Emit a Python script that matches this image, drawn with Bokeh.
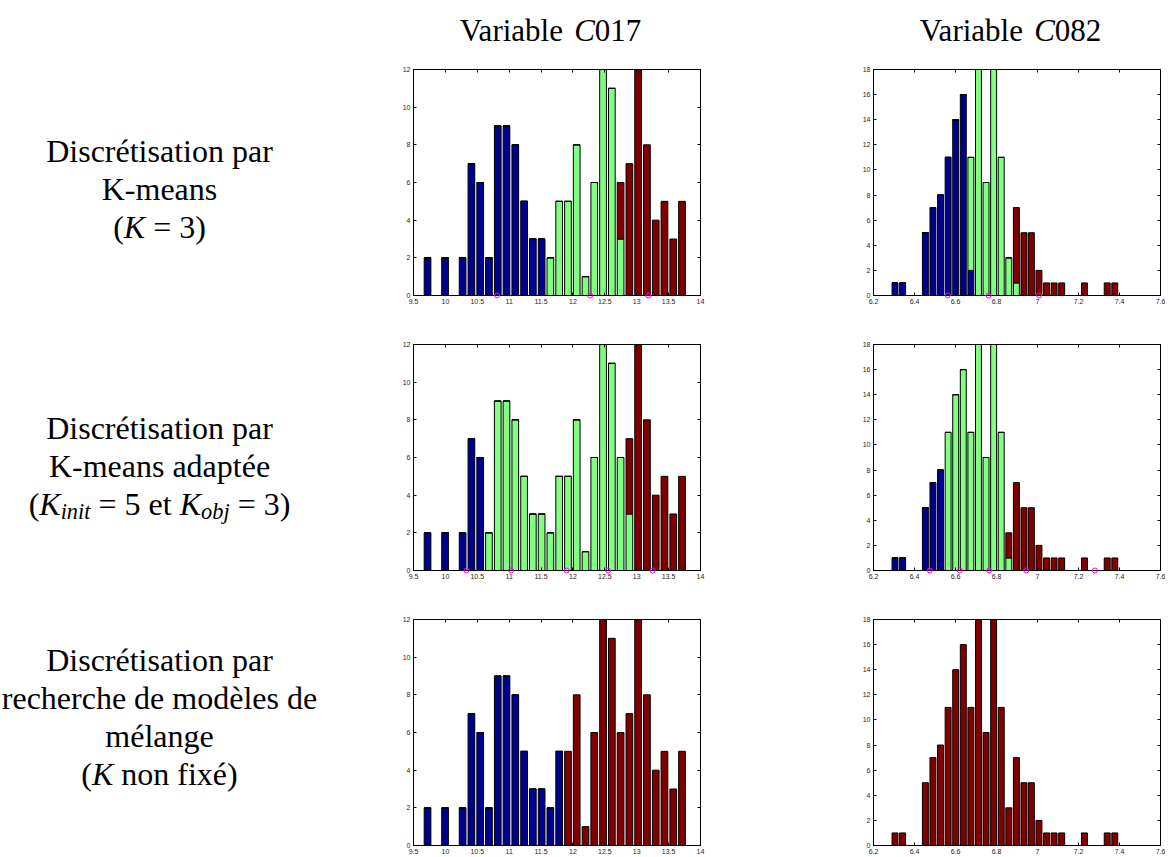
from bokeh.plotting import figure
from bokeh.models import Range1d, LinearAxis, FixedTicker, PrintfTickFormatter, ColumnDataSource
from bokeh.layouts import row, column
from bokeh.embed import file_html
from bokeh.resources import INLINE
from bokeh.core.properties import value

# ---------------- data ----------------
c017_bins = [9.720, 9.858, 9.995, 10.133, 10.270, 10.408, 10.546, 10.683, 10.821, 10.958,
             11.096, 11.234, 11.371, 11.509, 11.646, 11.784, 11.922, 12.059, 12.197, 12.334,
             12.472, 12.610, 12.747, 12.885, 13.022, 13.160, 13.298, 13.435, 13.573, 13.710]
c082_bins = [6.305, 6.342, 6.379, 6.416, 6.453, 6.490, 6.527, 6.564, 6.601, 6.638,
             6.675, 6.712, 6.749, 6.786, 6.823, 6.860, 6.897, 6.934, 6.970, 7.007,
             7.044, 7.081, 7.118, 7.155, 7.192, 7.229, 7.266, 7.303, 7.340, 7.377]

# K-means (K=3)
c017_km_blue = [2, 0, 2, 0, 2, 7, 6, 2, 9, 9, 8, 5, 3, 3, 0, 0, 0, 0, 0, 0, 0, 0, 0, 0, 0, 0, 0, 0, 0, 0]
c017_km_green = [0, 0, 0, 0, 0, 0, 0, 0, 0, 0, 0, 0, 0, 0, 2, 5, 5, 8, 1, 6, 12, 11, 3, 0, 0, 0, 0, 0, 0, 0]
c017_km_red = [0, 0, 0, 0, 0, 0, 0, 0, 0, 0, 0, 0, 0, 0, 0, 0, 0, 0, 0, 0, 0, 0, 3, 7, 12, 8, 4, 5, 3, 5]
c082_km_blue = [1, 1, 0, 0, 5, 7, 8, 11, 14, 16, 2, 0, 0, 0, 0, 0, 0, 0, 0, 0, 0, 0, 0, 0, 0, 0, 0, 0, 0, 0]
c082_km_green = [0, 0, 0, 0, 0, 0, 0, 0, 0, 0, 9, 18, 9, 18, 11, 3, 1, 0, 0, 0, 0, 0, 0, 0, 0, 0, 0, 0, 0, 0]
c082_km_red = [0, 0, 0, 0, 0, 0, 0, 0, 0, 0, 0, 0, 0, 0, 0, 0, 6, 5, 5, 2, 1, 1, 1, 0, 0, 1, 0, 0, 1, 1]

# K-means adaptee (Kinit=5, Kobj=3)
c017_ad_blue = [2, 0, 2, 0, 2, 7, 6, 0, 0, 0, 0, 0, 0, 0, 0, 0, 0, 0, 0, 0, 0, 0, 0, 0, 0, 0, 0, 0, 0, 0]
c017_ad_green = [0, 0, 0, 0, 0, 0, 0, 2, 9, 9, 8, 5, 3, 3, 2, 5, 5, 8, 1, 6, 12, 11, 6, 3, 0, 0, 0, 0, 0, 0]
c017_ad_red = [0, 0, 0, 0, 0, 0, 0, 0, 0, 0, 0, 0, 0, 0, 0, 0, 0, 0, 0, 0, 0, 0, 0, 4, 12, 8, 4, 5, 3, 5]
c082_ad_blue = [1, 1, 0, 0, 5, 7, 8, 0, 0, 0, 0, 0, 0, 0, 0, 0, 0, 0, 0, 0, 0, 0, 0, 0, 0, 0, 0, 0, 0, 0]
c082_ad_green = [0, 0, 0, 0, 0, 0, 0, 11, 14, 16, 11, 18, 9, 18, 11, 1, 0, 0, 0, 0, 0, 0, 0, 0, 0, 0, 0, 0, 0, 0]
c082_ad_red = [0, 0, 0, 0, 0, 0, 0, 0, 0, 0, 0, 0, 0, 0, 0, 2, 7, 5, 5, 2, 1, 1, 1, 0, 0, 1, 0, 0, 1, 1]

# Modeles de melange (K non fixe)
c017_gm_blue = [2, 0, 2, 0, 2, 7, 6, 2, 9, 9, 8, 5, 3, 3, 2, 5, 0, 0, 0, 0, 0, 0, 0, 0, 0, 0, 0, 0, 0, 0]
c017_gm_red = [0, 0, 0, 0, 0, 0, 0, 0, 0, 0, 0, 0, 0, 0, 0, 0, 5, 8, 1, 6, 12, 11, 6, 7, 12, 8, 4, 5, 3, 5]
c082_gm_red = [1, 1, 0, 0, 5, 7, 8, 11, 14, 16, 11, 18, 9, 18, 11, 3, 7, 5, 5, 2, 1, 1, 1, 0, 0, 1, 0, 0, 1, 1]

# cluster centres (magenta circles)
c017_km_centres = [10.81, 12.27, 13.18]
c082_km_centres = [6.562, 6.761, 7.008]
c017_ad_centres = [10.33, 11.03, 11.90, 12.55, 13.25]
c082_ad_centres = [6.475, 6.621, 6.764, 6.945, 7.280]

c017_xticks = [9.5, 10, 10.5, 11, 11.5, 12, 12.5, 13, 13.5, 14]
c017_xlabels = ["9.5", "10", "10.5", "11", "11.5", "12", "12.5", "13", "13.5", "14"]
c017_yticks = [0, 2, 4, 6, 8, 10, 12]
c082_xticks = [6.2, 6.4, 6.6, 6.8, 7.0, 7.2, 7.4, 7.6]
c082_xlabels = ["6.2", "6.4", "6.6", "6.8", "7", "7.2", "7.4", "7.6"]
c082_yticks = [0, 2, 4, 6, 8, 10, 12, 14, 16, 18]

# text: (segment, italic, subscript)
col_titles = [
    [("Variable ", False, False), ("C", True, False), ("017", False, False)],
    [("Variable ", False, False), ("C", True, False), ("082", False, False)],
]
row_labels = [
    [[("Discrétisation par", False, False)],
     [("K-means", False, False)],
     [("(", False, False), ("K", True, False), (" = 3)", False, False)]],
    [[("Discrétisation par", False, False)],
     [("K-means adaptée", False, False)],
     [("(", False, False), ("K", True, False), ("init", True, True), (" = 5 et ", False, False),
      ("K", True, False), ("obj", True, True), (" = 3)", False, False)]],
    [[("Discrétisation par", False, False)],
     [("recherche de modèles de", False, False)],
     [("mélange", False, False)],
     [("(", False, False), ("K", True, False), (" non fixé)", False, False)]],
]

# ---------------- styling ----------------
BLUE, GREEN, RED = "#00008F", "#80FF80", "#800000"
SERIF = "Liberation Serif"
SANS = "Liberation Sans"
FS = 32
TITLE_FS = 31
FW, FH = 287, 226
TOTAL_W, TOTAL_H = 1165, 849
LABEL_W = 373
HEADER_H = 50

TR = {' ': 250, '(': 333, ')': 333, '=': 564, '-': 333, '0': 500, '1': 500, '2': 500, '3': 500,
      '5': 500, '7': 500, '8': 500, 'a': 444, 'b': 500, 'c': 444, 'd': 500, 'e': 444, 'é': 444,
      'è': 444, 'f': 333, 'g': 500, 'h': 500, 'i': 278, 'j': 278, 'l': 278, 'm': 778, 'n': 500,
      'o': 500, 'p': 500, 'r': 333, 's': 389, 't': 278, 'u': 500, 'x': 500, 'D': 722, 'K': 722,
      'V': 722, 'C': 667}
TI = {'K': 667, 'C': 667, 'i': 278, 'n': 500, 't': 278, 'o': 500, 'b': 500, 'j': 278}


def text_fig(w, h):
    p = figure(width=w, height=h, x_range=Range1d(0, w), y_range=Range1d(h, 0),
               title=None, min_border=0, min_border_left=0, min_border_right=0,
               min_border_top=0, min_border_bottom=0,
               toolbar_location=None, output_backend="svg",
               x_axis_location=None, y_axis_location=None, outline_line_color=None,
               background_fill_color="white", border_fill_color="white")
    p.grid.grid_line_color = None
    return p


def draw_line(p, segs, cx, y, size):
    widths = []
    for t, it, sub in segs:
        s = size * 0.7 if sub else size
        tbl = TI if it else TR
        widths.append(sum(tbl.get(ch, 500) for ch in t) * s / 1000.0)
    x = cx - sum(widths) / 2.0
    for (t, it, sub), w in zip(segs, widths):
        s = size * 0.7 if sub else size
        lead = len(t) - len(t.lstrip(" "))
        xoff = lead * TR[" "] * s / 1000.0
        p.text(x=[x + xoff], y=[y + (0.22 * size if sub else 0)], text=[t.strip(" ")],
               text_font=value(SERIF), text_font_style="italic" if it else "normal",
               text_font_size=value("%.1fpx" % s), text_align="left",
               text_baseline="alphabetic", text_color="black", level="overlay")
        x += w


def style_axis(ax, labels=True):
    ax.axis_line_color = "black"
    ax.axis_line_width = 1
    ax.major_tick_in = 3
    ax.major_tick_out = 0
    ax.major_tick_line_color = "black"
    ax.minor_tick_line_color = None
    ax.major_label_text_font = SANS
    ax.major_label_text_color = "#262626"
    if labels:
        ax.major_label_text_font_size = "7px"
        ax.major_label_standoff = 3
    else:
        ax.major_label_text_font_size = "0px"
        ax.major_label_standoff = 0
        ax.major_label_text_alpha = 0


def make_panel(xr, yr, xticks, xlabels, yticks, centers, bw, layers, circles, bl, br, bb):
    p = figure(frame_width=FW, frame_height=FH, x_range=Range1d(*xr), y_range=Range1d(*yr),
               title=None,
               min_border_left=bl, min_border_right=br, min_border_top=19, min_border_bottom=bb,
               toolbar_location=None, output_backend="svg",
               background_fill_color="white", border_fill_color="white",
               outline_line_color="black", outline_line_width=1)
    p.grid.grid_line_color = None
    p.xaxis.ticker = FixedTicker(ticks=xticks)
    p.xaxis.formatter = PrintfTickFormatter(format="%g")
    p.xaxis.major_label_overrides = {float(t): s for t, s in zip(xticks, xlabels)}
    p.yaxis.ticker = FixedTicker(ticks=yticks)
    p.yaxis.formatter = PrintfTickFormatter(format="%d")
    style_axis(p.xaxis[0])
    style_axis(p.yaxis[0])
    top = LinearAxis(ticker=FixedTicker(ticks=xticks))
    style_axis(top, False)
    p.add_layout(top, "above")
    right = LinearAxis(ticker=FixedTicker(ticks=yticks))
    style_axis(right, False)
    p.add_layout(right, "right")

    names = [n for n, _, _ in layers]
    data = {"x": centers}
    for n, vals, _ in layers:
        data[n] = vals
    src = ColumnDataSource(data)
    p.vbar_stack(names, x="x", width=bw, fill_color=[c for _, _, c in layers],
                 line_color="black", line_width=1, source=src)
    if circles:
        p.scatter(x=circles, y=[0] * len(circles), marker="circle", size=5,
                  fill_color=None, line_color="#FF00FF", line_width=1, level="overlay")
    return p


C017 = dict(xr=(9.5, 14), yr=(0, 12), xticks=c017_xticks, xlabels=c017_xlabels,
            yticks=c017_yticks, centers=c017_bins, bw=0.105, bl=40, br=40)
C082 = dict(xr=(6.2, 7.6), yr=(0, 18), xticks=c082_xticks, xlabels=c082_xlabels,
            yticks=c082_yticks, centers=c082_bins, bw=0.029, bl=133, br=5)

p11 = make_panel(layers=[("b", c017_km_blue, BLUE), ("g", c017_km_green, GREEN), ("r", c017_km_red, RED)],
                 circles=c017_km_centres, bb=30, **C017)
p12 = make_panel(layers=[("b", c082_km_blue, BLUE), ("g", c082_km_green, GREEN), ("r", c082_km_red, RED)],
                 circles=c082_km_centres, bb=30, **C082)
p21 = make_panel(layers=[("b", c017_ad_blue, BLUE), ("g", c017_ad_green, GREEN), ("r", c017_ad_red, RED)],
                 circles=c017_ad_centres, bb=30, **C017)
p22 = make_panel(layers=[("b", c082_ad_blue, BLUE), ("g", c082_ad_green, GREEN), ("r", c082_ad_red, RED)],
                 circles=c082_ad_centres, bb=30, **C082)
p31 = make_panel(layers=[("b", c017_gm_blue, BLUE), ("r", c017_gm_red, RED)],
                 circles=None, bb=14, **C017)
p32 = make_panel(layers=[("r", c082_gm_red, RED)],
                 circles=None, bb=14, **C082)

# column titles
header = text_fig(TOTAL_W - LABEL_W, HEADER_H)
for segs, cx in zip(col_titles, [177, 637]):
    draw_line(header, segs, cx, 30, TITLE_FS)

# row labels
labels = text_fig(LABEL_W, TOTAL_H)
first_baselines = [150, 427, 659]
for lines, y0 in zip(row_labels, first_baselines):
    for i, segs in enumerate(lines):
        draw_line(labels, segs, 159, y0 + i * 38.3, FS)

layout = row(labels, column(header, row(p11, p12), row(p21, p22), row(p31, p32)))

open("out.html", "w").write(file_html(layout, INLINE))
